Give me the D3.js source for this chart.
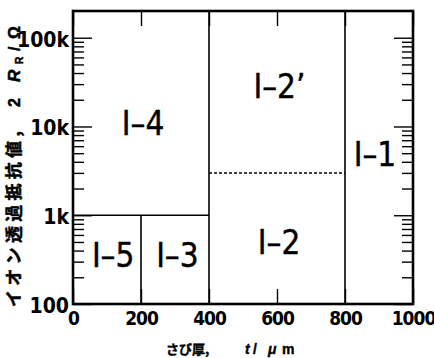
<!DOCTYPE html>
<html>
<head>
<meta charset="utf-8">
<script src="https://cdn.jsdelivr.net/npm/d3@7"></script>
<style>
  body { margin: 0; background: #fff; }
  svg { display: block; }
</style>
</head>
<body>
<svg id="container"></svg>
<script>
/* CONSTANTS AND GLOBALS */
const width = 434,
  height = 358,
  margin = { top: 11, right: 21, bottom: 54, left: 73 };

/* DATA */
const xTickValues = [0, 200, 400, 600, 800, 1000];
const yTickValues = [100, 1000, 10000, 100000];
const yTickLabels = ["100", "1k", "10k", "100k"];

// region names and where their labels sit (thickness um, resistance ohm)
const regionNames = ["I–4", "I–5", "I–3", "I–2’", "I–2", "I–1"];
const regionX = [206, 118, 307, 607, 606, 888];
const regionY = [11000, 352, 352, 28700, 500, 4900];

// region borders [x1, y1, x2, y2]
const solidBounds = [
  [0, 1000, 400, 1000],
  [200, 100, 200, 1000],
  [400, 100, 400, 200000],
  [800, 100, 800, 200000]
];
const dashedBounds = [
  [400, 3000, 800, 3000]
];

const tickFont = "'Liberation Sans Narrow', 'DejaVu Sans Condensed', sans-serif";
const jpFont = "'Noto Sans CJK JP', sans-serif";
const latinFont = "'Liberation Sans', sans-serif";

/* SCALES */
const xScale = d3.scaleLinear()
  .domain([0, 1000])
  .range([margin.left, width - margin.right]);

const yScale = d3.scaleLog()
  .domain([100, 200000])
  .range([height - margin.bottom, margin.top]);

// minor ticks = log ticks that are not decades
const yMinor = yScale.ticks().filter(d => !yTickValues.includes(d) && d < 200000);

/* HTML ELEMENTS */
const svg = d3.select("#container")
  .attr("width", width)
  .attr("height", height);

svg.append("rect")
  .attr("width", width)
  .attr("height", height)
  .attr("fill", "#fff");

// axes, all ticks point inwards
const xBottom = svg.append("g")
  .attr("transform", `translate(0, ${height - margin.bottom})`)
  .call(d3.axisBottom(xScale).tickValues(xTickValues).tickSizeInner(-15).tickSizeOuter(0).tickPadding(8)
    .tickFormat(d3.format("d")));

const xTop = svg.append("g")
  .attr("transform", `translate(0, ${margin.top})`)
  .call(d3.axisTop(xScale).tickValues(xTickValues).tickSizeInner(-15).tickSizeOuter(0).tickFormat(""));

const yLeft = svg.append("g")
  .attr("transform", `translate(${margin.left}, 0)`)
  .call(d3.axisLeft(yScale).tickValues(yTickValues).tickSizeInner(-19).tickSizeOuter(0).tickPadding(4)
    .tickFormat((d, i) => yTickLabels[i]));

const yLeftMinor = svg.append("g")
  .attr("transform", `translate(${margin.left}, 0)`)
  .call(d3.axisLeft(yScale).tickValues(yMinor).tickSizeInner(-11).tickSizeOuter(0).tickFormat(""));

const yRight = svg.append("g")
  .attr("transform", `translate(${width - margin.right}, 0)`)
  .call(d3.axisRight(yScale).tickValues(yTickValues).tickSizeInner(-19).tickSizeOuter(0).tickFormat(""));

const yRightMinor = svg.append("g")
  .attr("transform", `translate(${width - margin.right}, 0)`)
  .call(d3.axisRight(yScale).tickValues(yMinor).tickSizeInner(-11).tickSizeOuter(0).tickFormat(""));

[xBottom, xTop, yLeft, yLeftMinor, yRight, yRightMinor].forEach(g => {
  g.select(".domain").remove();
  g.selectAll("line").attr("stroke", "#000").attr("stroke-width", 1.4);
  g.selectAll("text")
    .attr("fill", "#000")
    .style("font-family", tickFont)
    .style("font-weight", "bold")
    .style("font-size", "20px");
});
xBottom.selectAll("text").style("font-size", "19px").style("letter-spacing", "-1px");
yLeft.selectAll("text").attr("dy", "0.4em").style("font-size", "21px");

// region borders
svg.append("g")
  .selectAll("line")
  .data(solidBounds)
  .join("line")
  .attr("x1", d => xScale(d[0]))
  .attr("y1", d => yScale(d[1]))
  .attr("x2", d => xScale(d[2]))
  .attr("y2", d => yScale(d[3]))
  .attr("stroke", "#000")
  .attr("stroke-width", 1.6);

svg.append("g")
  .selectAll("line")
  .data(dashedBounds)
  .join("line")
  .attr("x1", d => xScale(d[0]))
  .attr("y1", d => yScale(d[1]))
  .attr("x2", d => xScale(d[2]))
  .attr("y2", d => yScale(d[3]))
  .attr("stroke", "#000")
  .attr("stroke-width", 1.5)
  .attr("stroke-dasharray", "3,2");

// frame
svg.append("rect")
  .attr("x", margin.left)
  .attr("y", margin.top)
  .attr("width", width - margin.left - margin.right)
  .attr("height", height - margin.top - margin.bottom)
  .attr("fill", "none")
  .attr("stroke", "#000")
  .attr("stroke-width", 2.6);

// region labels
svg.append("g")
  .selectAll("text")
  .data(regionNames)
  .join("text")
  .attr("x", (d, i) => xScale(regionX[i]))
  .attr("y", (d, i) => yScale(regionY[i]))
  .attr("dy", "0.36em")
  .attr("text-anchor", "middle")
  .attr("stroke", "#000")
  .attr("stroke-width", 0.4)
  .style("font-family", tickFont)
  .style("font-size", "33px")
  .text(d => d);

// x title
const xTitle = svg.append("text")
  .attr("y", 354)
  .attr("stroke", "#000")
  .attr("stroke-width", 0.4)
  .style("font-weight", "bold")
  .style("font-size", "14px");
xTitle.append("tspan").attr("x", 166).style("font-family", jpFont).style("font-size", "13px").text("さび厚,");
xTitle.append("tspan").attr("x", 245).style("font-family", latinFont).style("font-style", "italic").text("t");
xTitle.append("tspan").attr("x", 253).style("font-family", latinFont).text("/");
xTitle.append("tspan").attr("x", 268).style("font-family", latinFont).style("font-style", "italic").text("μ");
xTitle.append("tspan").attr("x", 282).style("font-family", latinFont).text("m");

// y title, rotated, reads bottom to top
const yTitle = svg.append("text")
  .attr("transform", "translate(20, 307) rotate(-90)")
  .attr("stroke", "#000")
  .attr("stroke-width", 0.5)
  .style("font-weight", "bold")
  .style("font-size", "16px");
yTitle.append("tspan").attr("x", 0).style("font-family", jpFont).style("font-size", "17px").style("letter-spacing", "4.3px").text("イオン透過抵抗値,");
yTitle.append("tspan").attr("x", 200).style("font-family", latinFont).text("2");
yTitle.append("tspan").attr("x", 225).style("font-family", latinFont).style("font-style", "italic").style("font-size", "17px").text("R");
yTitle.append("tspan").attr("x", 243).attr("dy", 3).style("font-family", latinFont).style("font-size", "10px").text("R");
yTitle.append("tspan").attr("x", 256).attr("dy", -3).style("font-family", latinFont).text("/");
yTitle.append("tspan").attr("x", 268).style("font-family", latinFont).text("Ω");
</script>
</body>
</html>
